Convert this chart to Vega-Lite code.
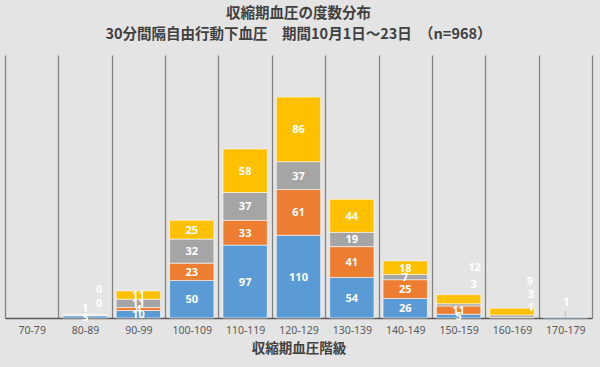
{
  "$schema": "https://vega.github.io/schema/vega-lite/v6.json",
  "autosize": "none",
  "width": 587,
  "height": 263,
  "padding": {"left": 5, "top": 55, "right": 8, "bottom": 49},
  "background": "#e4e4e4",
  "title": {
    "text": ["収縮期血圧の度数分布", "30分間隔自由行動下血圧　期間10月1日～23日　（n=968）"],
    "anchor": "middle",
    "font": "Noto Sans CJK JP",
    "fontSize": 14.5,
    "fontWeight": "bold",
    "color": "#404040",
    "lineHeight": 21,
    "offset": 13
  },
  "config": {
    "view": {"stroke": null},
    "axis": {"labelFont": "Noto Sans", "titleFont": "Noto Sans CJK JP"}
  },
  "data": {
    "values": [
      {"range": "80-89", "series": "系列1", "order": 1, "value": 3},
      {"range": "80-89", "series": "系列2", "order": 2, "value": 1},
      {"range": "80-89", "series": "系列3", "order": 3, "value": 0},
      {"range": "80-89", "series": "系列4", "order": 4, "value": 0},
      {"range": "90-99", "series": "系列1", "order": 1, "value": 10},
      {"range": "90-99", "series": "系列2", "order": 2, "value": 4},
      {"range": "90-99", "series": "系列3", "order": 3, "value": 11},
      {"range": "90-99", "series": "系列4", "order": 4, "value": 11},
      {"range": "100-109", "series": "系列1", "order": 1, "value": 50},
      {"range": "100-109", "series": "系列2", "order": 2, "value": 23},
      {"range": "100-109", "series": "系列3", "order": 3, "value": 32},
      {"range": "100-109", "series": "系列4", "order": 4, "value": 25},
      {"range": "110-119", "series": "系列1", "order": 1, "value": 97},
      {"range": "110-119", "series": "系列2", "order": 2, "value": 33},
      {"range": "110-119", "series": "系列3", "order": 3, "value": 37},
      {"range": "110-119", "series": "系列4", "order": 4, "value": 58},
      {"range": "120-129", "series": "系列1", "order": 1, "value": 110},
      {"range": "120-129", "series": "系列2", "order": 2, "value": 61},
      {"range": "120-129", "series": "系列3", "order": 3, "value": 37},
      {"range": "120-129", "series": "系列4", "order": 4, "value": 86},
      {"range": "130-139", "series": "系列1", "order": 1, "value": 54},
      {"range": "130-139", "series": "系列2", "order": 2, "value": 41},
      {"range": "130-139", "series": "系列3", "order": 3, "value": 19},
      {"range": "130-139", "series": "系列4", "order": 4, "value": 44},
      {"range": "140-149", "series": "系列1", "order": 1, "value": 26},
      {"range": "140-149", "series": "系列2", "order": 2, "value": 25},
      {"range": "140-149", "series": "系列3", "order": 3, "value": 7},
      {"range": "140-149", "series": "系列4", "order": 4, "value": 18},
      {"range": "150-159", "series": "系列1", "order": 1, "value": 5},
      {"range": "150-159", "series": "系列2", "order": 2, "value": 11},
      {"range": "150-159", "series": "系列3", "order": 3, "value": 3},
      {"range": "150-159", "series": "系列4", "order": 4, "value": 12},
      {"range": "160-169", "series": "系列2", "order": 2, "value": 1},
      {"range": "160-169", "series": "系列3", "order": 3, "value": 3},
      {"range": "160-169", "series": "系列4", "order": 4, "value": 9},
      {"range": "170-179", "series": "系列1", "order": 1, "value": 1}
    ]
  },
  "transform": [
    {"stack": "value", "groupby": ["range"], "sort": [{"field": "order", "order": "ascending"}], "as": ["v0", "v1"]},
    {"calculate": "(datum.v0 + datum.v1) / 2", "as": "vm"}
  ],
  "encoding": {
    "x": {
      "field": "range",
      "type": "nominal",
      "sort": null,
      "scale": {
        "type": "band",
        "domain": ["70-79", "80-89", "90-99", "100-109", "110-119", "120-129", "130-139", "140-149", "150-159", "160-169", "170-179"],
        "paddingInner": 0,
        "paddingOuter": 0
      },
      "axis": {
        "title": "収縮期血圧階級",
        "labelAngle": 0,
        "grid": true,
        "gridColor": "#7f7f7f",
        "gridWidth": 1.2,
        "tickBand": "extent",
        "ticks": false,
        "domainColor": "#595959",
        "domainWidth": 1.3,
        "labelColor": "#595959",
        "labelFontSize": 10.5,
        "labelPadding": 7,
        "titleFontSize": 13.5,
        "titleFontWeight": "bold",
        "titleColor": "#404040",
        "titlePadding": 6
      }
    }
  },
  "layer": [
    {
      "mark": {"type": "bar", "width": {"band": 0.83}, "stroke": "#ffffff", "strokeWidth": 0.8, "strokeOpacity": 0.7},
      "encoding": {
        "y": {"field": "v1", "type": "quantitative", "scale": {"domain": [0, 350], "nice": false}, "axis": null},
        "y2": {"field": "v0"},
        "color": {
          "field": "series",
          "type": "nominal",
          "scale": {"domain": ["系列1", "系列2", "系列3", "系列4"], "range": ["#5b9bd5", "#ed7d31", "#a5a5a5", "#ffc000"]},
          "legend": null
        }
      }
    },
    {
      "transform": [{"filter": "datum.range === '170-179'"}],
      "mark": {"type": "rule", "color": "#bfbfbf", "strokeWidth": 1},
      "encoding": {
        "y": {"datum": 0, "type": "quantitative"},
        "y2": {"datum": 9}
      }
    },
    {
      "transform": [{"filter": "!((datum.range === '80-89' && datum.order !== 1) || (datum.range === '150-159' && datum.order >= 3) || datum.range === '160-169' || datum.range === '170-179')"}],
      "mark": {"type": "text", "color": "#ffffff", "font": "Noto Sans", "fontSize": 11, "fontWeight": "bold", "baseline": "middle", "dy": 1},
      "encoding": {
        "y": {"field": "vm", "type": "quantitative"},
        "text": {"field": "value", "type": "quantitative"}
      }
    },
    {
      "transform": [{"filter": "datum.range === '80-89' && datum.order === 2"}],
      "mark": {"type": "text", "color": "#ffffff", "font": "Noto Sans", "fontSize": 11, "fontWeight": "bold", "baseline": "middle", "dy": -6},
      "encoding": {"y": {"field": "vm", "type": "quantitative"}, "text": {"field": "value", "type": "quantitative"}}
    },
    {
      "transform": [{"filter": "datum.range === '80-89' && datum.order === 3"}],
      "mark": {"type": "text", "color": "#ffffff", "font": "Noto Sans", "fontSize": 11, "fontWeight": "bold", "baseline": "middle", "dx": 14, "dy": -11},
      "encoding": {"y": {"field": "vm", "type": "quantitative"}, "text": {"field": "value", "type": "quantitative"}}
    },
    {
      "transform": [{"filter": "datum.range === '80-89' && datum.order === 4"}],
      "mark": {"type": "text", "color": "#ffffff", "font": "Noto Sans", "fontSize": 11, "fontWeight": "bold", "baseline": "middle", "dx": 14, "dy": -25},
      "encoding": {"y": {"field": "vm", "type": "quantitative"}, "text": {"field": "value", "type": "quantitative"}}
    },
    {
      "transform": [{"filter": "datum.range === '150-159' && datum.order === 3"}],
      "mark": {"type": "text", "color": "#ffffff", "font": "Noto Sans", "fontSize": 11, "fontWeight": "bold", "baseline": "middle", "dx": 15, "dy": -20},
      "encoding": {"y": {"field": "vm", "type": "quantitative"}, "text": {"field": "value", "type": "quantitative"}}
    },
    {
      "transform": [{"filter": "datum.range === '150-159' && datum.order === 4"}],
      "mark": {"type": "text", "color": "#ffffff", "font": "Noto Sans", "fontSize": 11, "fontWeight": "bold", "baseline": "middle", "dx": 16, "dy": -31},
      "encoding": {"y": {"field": "vm", "type": "quantitative"}, "text": {"field": "value", "type": "quantitative"}}
    },
    {
      "transform": [{"filter": "datum.range === '160-169' && datum.order === 4"}],
      "mark": {"type": "text", "color": "#ffffff", "font": "Noto Sans", "fontSize": 11, "fontWeight": "bold", "baseline": "middle", "dx": 18, "dy": -30},
      "encoding": {"y": {"field": "vm", "type": "quantitative"}, "text": {"field": "value", "type": "quantitative"}}
    },
    {
      "transform": [{"filter": "datum.range === '160-169' && datum.order === 3"}],
      "mark": {"type": "text", "color": "#ffffff", "font": "Noto Sans", "fontSize": 11, "fontWeight": "bold", "baseline": "middle", "dx": 19, "dy": -21},
      "encoding": {"y": {"field": "vm", "type": "quantitative"}, "text": {"field": "value", "type": "quantitative"}}
    },
    {
      "transform": [{"filter": "datum.range === '160-169' && datum.order === 2"}],
      "mark": {"type": "text", "color": "#ffffff", "font": "Noto Sans", "fontSize": 11, "fontWeight": "bold", "baseline": "middle", "dx": 19, "dy": -10},
      "encoding": {"y": {"field": "vm", "type": "quantitative"}, "text": {"field": "value", "type": "quantitative"}}
    },
    {
      "transform": [{"filter": "datum.range === '170-179'"}],
      "mark": {"type": "text", "color": "#ffffff", "font": "Noto Sans", "fontSize": 11, "fontWeight": "bold", "baseline": "middle", "dx": 1, "dy": -15},
      "encoding": {"y": {"field": "vm", "type": "quantitative"}, "text": {"field": "value", "type": "quantitative"}}
    }
  ]
}
